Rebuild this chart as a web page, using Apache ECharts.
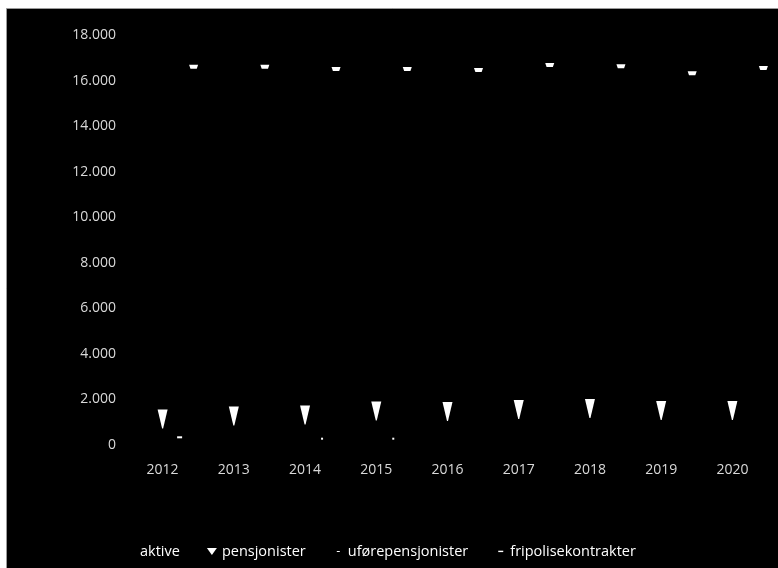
<!DOCTYPE html>
<html>
<head>
<meta charset="utf-8">
<script src="https://cdn.jsdelivr.net/npm/echarts@6/dist/echarts.min.js"></script>
<style>
  html, body { margin: 0; padding: 0; background: #ffffff; }
  #chart { width: 778px; height: 568px; }
</style>
</head>
<body>
<div id="chart"></div>
<script>
const years = ['2012', '2013', '2014', '2015', '2016', '2017', '2018', '2019', '2020'];
const aktive = [null, null, null, null, null, null, null, null, null];
const pensjonister = [1146, 1273, 1317, 1493, 1471, 1559, 1602, 1515, 1515];
const uforepensjonister = [338, null, 277, 277, null, null, null, null, null];
const fripolisekontrakter = [16607, 16607, 16506, 16506, 16462, 16681, 16624, 16317, 16550];
const seriesNames = ['aktive', 'pensjonister', 'uførepensjonister', 'fripolisekontrakter'];
const yTicks = [0, 2000, 4000, 6000, 8000, 10000, 12000, 14000, 16000, 18000];

const fmt = v => String(v).replace(/\B(?=(\d{3})+(?!\d))/g, '.');
const FONT = 'Open Sans';

const chart = echarts.init(document.getElementById('chart'), null, { renderer: 'canvas' });
chart.setOption({
  backgroundColor: '#ffffff',
  animation: false,
  graphic: [{
    type: 'rect', z: -100, silent: true,
    shape: { x: 6.5, y: 8.5, width: 800, height: 600 },
    style: { fill: '#000000', stroke: '#9a9a9a', lineWidth: 1 }
  }],
  grid: { left: 127, right: 10, top: 35, bottom: 123, containLabel: false },
  xAxis: {
    type: 'category',
    data: years,
    axisLine: { show: false },
    axisTick: { show: false },
    axisLabel: { color: '#d9d9d9', fontFamily: FONT, fontSize: 14, margin: 18 },
    splitLine: { show: false }
  },
  yAxis: {
    type: 'value',
    min: yTicks[0],
    max: yTicks[yTicks.length - 1],
    interval: 2000,
    axisLine: { show: false },
    axisTick: { show: false },
    splitLine: { show: false },
    axisLabel: { color: '#d9d9d9', fontFamily: FONT, fontSize: 14, margin: 11, formatter: v => fmt(v) }
  },
  legend: {
    left: 120,
    top: 539,
    itemWidth: 10,
    itemHeight: 8,
    itemGap: 27,
    textStyle: { color: '#ffffff', fontFamily: FONT, fontSize: 14.5 },
    data: [
      { name: seriesNames[0], icon: 'rect' },
      { name: seriesNames[1], icon: 'path://M0,0L10,0L5,7Z' },
      { name: seriesNames[2], icon: 'path://M0,0M10,8M4,3.5L7,3.5L7,4.5L4,4.5Z' },
      { name: seriesNames[3], icon: 'path://M0,0M10,8M3,3.2L8,3.2L8,4.6L3,4.6Z' }
    ]
  },
  series: [
    {
      name: seriesNames[0], type: 'scatter', data: aktive,
      itemStyle: { color: '#000000', opacity: 1 }, symbolSize: 1
    },
    {
      name: seriesNames[1], type: 'scatter', data: pensjonister,
      symbol: 'path://M0,0L10,0L5.5,19L4.5,19Z', symbolSize: [10, 19],
      itemStyle: { color: '#ffffff', opacity: 1 }
    },
    {
      name: seriesNames[2], type: 'scatter', data: uforepensjonister,
      symbol: 'rect', symbolSize: (v, p) => p.dataIndex === 0 ? [5, 2] : [2, 2],
      symbolOffset: [17, 0],
      itemStyle: { color: '#ffffff', opacity: 1 }
    },
    {
      name: seriesNames[3], type: 'scatter', data: fripolisekontrakter,
      symbol: 'path://M0,0L10,0L8.5,4L1.5,4Z', symbolSize: [9, 4],
      symbolOffset: [31, 0],
      itemStyle: { color: '#ffffff', opacity: 1 }
    }
  ]
});
</script>
</body>
</html>
